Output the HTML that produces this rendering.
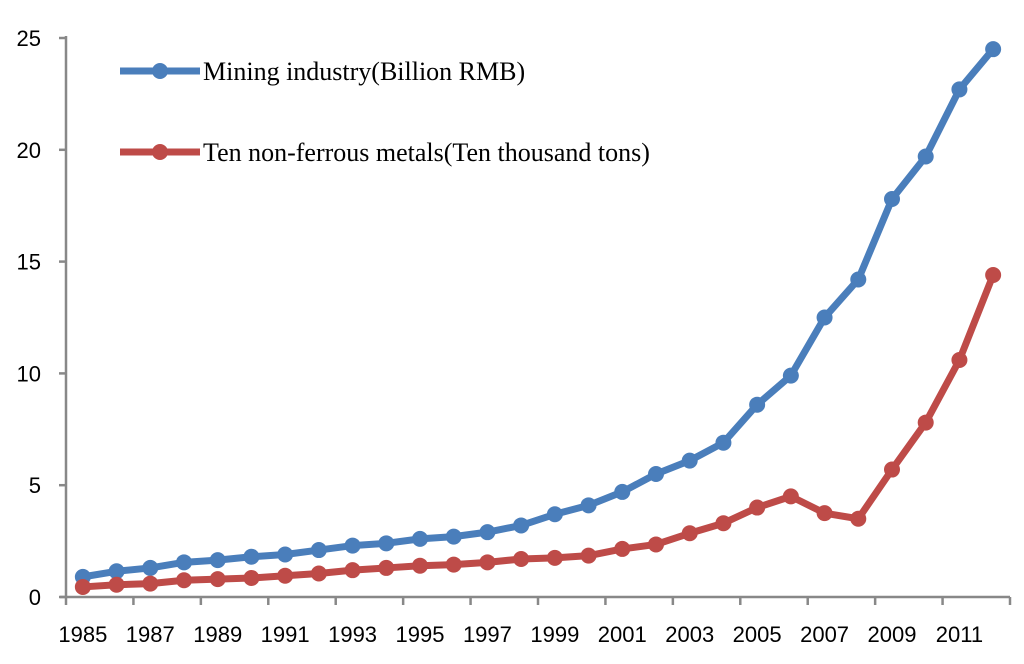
<!DOCTYPE html>
<html><head><meta charset="utf-8"><style>
body{margin:0;background:#fff;}
svg{display:block;}
.tk{font-family:"Liberation Sans",sans-serif;font-size:22px;fill:#000;}
.lg{font-family:"Liberation Serif",serif;font-size:26px;fill:#000;}
</style></head><body>
<svg id="chart" width="1024" height="664" viewBox="0 0 1024 664"></svg>
<script>
const years=[1985,1986,1987,1988,1989,1990,1991,1992,1993,1994,1995,1996,1997,1998,1999,2000,2001,2002,2003,2004,2005,2006,2007,2008,2009,2010,2011,2012];
const miningValues=[0.9,1.15,1.3,1.55,1.65,1.8,1.9,2.1,2.3,2.4,2.6,2.7,2.9,3.2,3.7,4.1,4.7,5.5,6.1,6.9,8.6,9.9,12.5,14.2,17.8,19.7,22.7,24.5];
const metalValues=[0.45,0.55,0.6,0.75,0.8,0.85,0.95,1.05,1.2,1.3,1.4,1.45,1.55,1.7,1.75,1.85,2.15,2.35,2.85,3.3,4.0,4.5,3.75,3.5,5.7,7.8,10.6,14.4];
const yTicks=[0,5,10,15,20,25];
const seriesNames=["Mining industry(Billion RMB)","Ten non-ferrous metals(Ten thousand tons)"];
const NS="http://www.w3.org/2000/svg";
const svg=document.getElementById('chart');
const x0=66,x1=1010,y0=597,yTop=38,yMax=25;
const bw=(x1-x0)/years.length;
const X=i=>x0+bw*(i+0.5);
const Y=v=>y0-(y0-yTop)*v/yMax;
function mk(t,a){const e=document.createElementNS(NS,t);for(const k in a)e.setAttribute(k,a[k]);svg.appendChild(e);return e;}
let e;
e=mk('line',{x1:x0,y1:yTop-2,x2:x0,y2:y0,stroke:'#888',"stroke-width":2.5});


e=mk('line',{x1:x0-6,y1:y0,x2:x1,y2:y0,stroke:'#888',"stroke-width":2.5});


yTicks.forEach(v=>{
  e=mk('line',{x1:x0-7,y1:Y(v),x2:x0,y2:Y(v),stroke:'#888',"stroke-width":2.5});
  
  
  e=mk('text',{x:x0-25,y:Y(v)+8,"text-anchor":"end",class:'tk'});e.textContent=v;
  
  
});
for(let i=0;i<=years.length;i+=2){
  e=mk('line',{x1:x0+bw*i,y1:y0,x2:x0+bw*i,y2:y0+8,stroke:'#888',"stroke-width":2.5});
  
  
}
years.forEach((yr,i)=>{ if(i%2===0){
  e=mk('text',{x:X(i),y:642,"text-anchor":"middle",class:'tk'});e.textContent=yr;
  
  
}});
function series(vals,color,name){
  e=mk('polyline',{points:vals.map((v,i)=>X(i)+','+Y(v)).join(' '),fill:'none',stroke:color,"stroke-width":7,"stroke-linejoin":"round"});
  
  
  vals.forEach((v,i)=>{
    e=mk('circle',{cx:X(i),cy:Y(v),r:8,fill:color});
    
    
  });
}
series(miningValues,'#4A7EBB','mining');
series(metalValues,'#BE4B48','metals');
[[71,'#4A7EBB',0,'legend-mining'],[152,'#BE4B48',1,'legend-metals']].forEach(([ly,c,k,n])=>{
  e=mk('line',{x1:120,y1:ly,x2:200,y2:ly,stroke:c,"stroke-width":7});
  
  
  e=mk('circle',{cx:160,cy:ly,r:8,fill:c});
  
  
  e=mk('text',{x:203,y:ly+9,class:'lg'});e.textContent=seriesNames[k];
  
  
});
</script>
</body></html>
